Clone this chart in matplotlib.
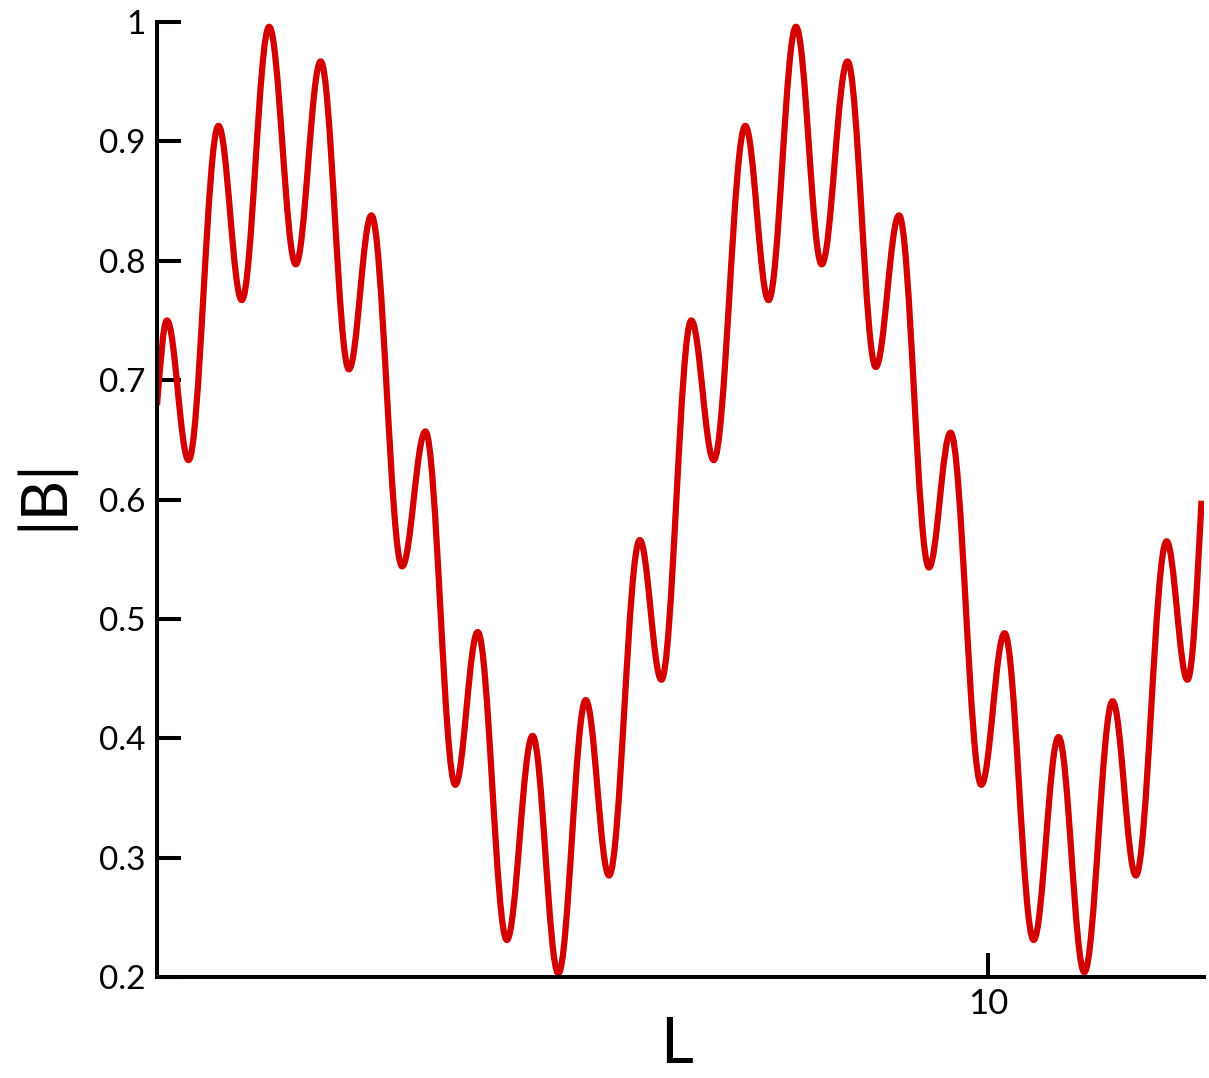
## |B| against L, a fast ripple riding on a slow wave
import matplotlib
matplotlib.use("Agg")
import numpy as np
import matplotlib.pyplot as plt
from matplotlib.path import Path
from matplotlib.patches import PathPatch

## turning points of the curve (plus the two ends)
L_vals = [0.00, 0.12, 0.38, 0.74, 1.02, 1.35, 1.67, 1.97, 2.31, 2.58,
          2.95, 3.23, 3.59, 3.86, 4.21, 4.52, 4.83, 5.16, 5.44, 5.81,
          6.07, 6.43, 6.70, 7.08, 7.36, 7.69, 8.00, 8.31, 8.65, 8.93,
          9.29, 9.55, 9.92, 10.20, 10.55, 10.85, 11.16, 11.50, 11.78, 12.15,
          12.40, 12.57]
B_vals = [0.679, 0.750, 0.633, 0.913, 0.767, 0.996, 0.797, 0.967, 0.709, 0.838,
          0.544, 0.657, 0.361, 0.489, 0.231, 0.402, 0.203, 0.432, 0.285, 0.566,
          0.449, 0.750, 0.633, 0.913, 0.767, 0.996, 0.797, 0.967, 0.711, 0.838,
          0.543, 0.656, 0.361, 0.488, 0.231, 0.401, 0.204, 0.431, 0.285, 0.565,
          0.449, 0.599]

x_ticks = [10]
x_tick_labels = ["10"]
y_ticks = [0.2, 0.3, 0.4, 0.5, 0.6, 0.7, 0.8, 0.9, 1.0]
y_tick_labels = ["0.2", "0.3", "0.4", "0.5", "0.6", "0.7", "0.8", "0.9", "1"]

plt.rcParams["font.family"] = ["Lato", "DejaVu Sans"]

fig = plt.figure(figsize=(12.09, 10.78), dpi=100)
ax = fig.add_axes([157 / 1209, 101 / 1078, 1047 / 1209, 955 / 1078])

## smooth path through the turning points: flat tangent at each extremum,
## the two open ends keep the slope of their neighbour segment
x = np.array(L_vals)
y = np.array(B_vals)
slope = np.zeros(len(x))
slope[0] = 1.4 * (y[1] - y[0]) / (x[1] - x[0])
slope[-1] = 1.5 * (y[-1] - y[-2]) / (x[-1] - x[-2])
a = 0.3634
verts = [(x[0], y[0])]
codes = [Path.MOVETO]
for i in range(len(x) - 1):
    dx = x[i + 1] - x[i]
    verts.append((x[i] + a * dx, y[i] + slope[i] * a * dx))
    verts.append((x[i + 1] - a * dx, y[i + 1] - slope[i + 1] * a * dx))
    verts.append((x[i + 1], y[i + 1]))
    codes += [Path.CURVE4] * 3
curve = PathPatch(Path(verts, codes), fill=False, edgecolor="#d40000",
                  linewidth=4.5, capstyle="butt", joinstyle="round", zorder=2)
ax.add_patch(curve)

ax.set_xlim(0, 12.6)
ax.set_ylim(0.2, 1.0)

## open frame, ticks pointing inward
for side in ["top", "right"]:
    ax.spines[side].set_visible(False)
for side in ["left", "bottom"]:
    ax.spines[side].set_linewidth(2.9)

ax.set_xticks(x_ticks)
ax.set_xticklabels(x_tick_labels, fontsize=25)
ax.set_yticks(y_ticks)
ax.set_yticklabels(y_tick_labels, fontsize=24)
ax.tick_params(axis="both", direction="in", length=17, width=2.9)
ax.tick_params(axis="y", pad=8)
ax.tick_params(axis="x", pad=8)

fig.text(677 / 1209, 1 - 1063 / 1078, "L", fontsize=46, ha="center", va="baseline")
fig.text(43 / 1209, 1 - 494 / 1078, "|B|", fontsize=45, rotation=90,
         ha="center", va="center")

fig.savefig("out.png", dpi=100, facecolor="white")
